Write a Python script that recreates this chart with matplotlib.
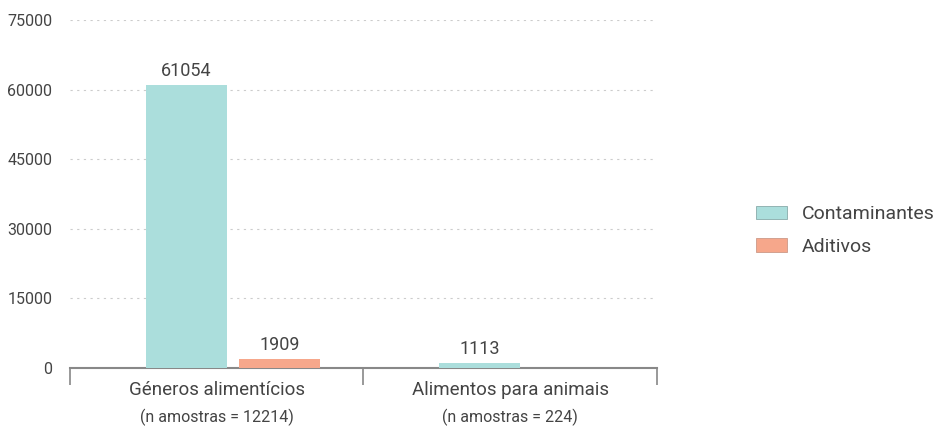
import matplotlib.pyplot as plt
import matplotlib.patches as mpatches
import numpy as np

categories = ["Géneros alimentícios", "Alimentos para animais"]
subtitles = ["(n amostras = 12214)", "(n amostras = 224)"]
series_names = ["Contaminantes", "Aditivos"]
contaminantes = [61054, 1113]
aditivos = [1909, 0]
yticks = [0, 15000, 30000, 45000, 60000, 75000]

colors = ["#abdedc", "#f6a78b"]

plt.rcParams['font.family'] = ['Roboto', 'DejaVu Sans']

fig = plt.figure(figsize=(9.38, 4.32), dpi=100)
ax = fig.add_axes([0.075, 0.148, 0.625, 0.806])

centers = np.arange(len(categories)) + 0.5
width = 0.276
offsets = [-0.105, 0.215]
txt_col = '#444444'
wt = 'normal'

for vals, off, col in zip([contaminantes, aditivos], offsets, colors):
    for c, v in zip(centers, vals):
        if v <= 0:
            continue
        ax.bar(c + off, v, width=width, color=col, zorder=3)
        ax.text(c + off, v + 1100, str(v), ha='center', va='bottom',
                fontsize=13, color=txt_col, fontweight=wt)

ax.set_xlim(0, 2)
ax.set_ylim(0, 75000)
ax.set_yticks(yticks)
ax.set_yticklabels([str(t) for t in yticks], fontsize=11.5, color=txt_col, fontweight=wt)
ax.tick_params(axis='y', length=0, pad=13)
ax.grid(axis='y', linestyle=(0, (2, 4)), color='#cccccc', linewidth=0.8, zorder=0)

ax.set_xticks([0, 1, 2])
ax.set_xticklabels([])
ax.tick_params(axis='x', length=12, width=1.2, color='#888888', direction='out')

for s in ['top', 'right', 'left']:
    ax.spines[s].set_visible(False)
ax.spines['bottom'].set_color('#888888')
ax.spines['bottom'].set_linewidth(1.5)

for c, cat, sub in zip(centers, categories, subtitles):
    ax.text(c, -0.038, cat, transform=ax.get_xaxis_transform(), ha='center', va='top',
            fontsize=13.5, color=txt_col, fontweight=wt)
    ax.text(c, -0.118, sub, transform=ax.get_xaxis_transform(), ha='center', va='top',
            fontsize=11.5, color=txt_col, fontweight=wt)

handles = [mpatches.Patch(facecolor=col, edgecolor='#8aa', label=n, linewidth=0.6)
           for col, n in zip(colors, series_names)]
handles[1].set_edgecolor('#c98')
leg = fig.legend(handles=handles, loc='upper left', bbox_to_anchor=(0.787, 0.565),
                 frameon=False, fontsize=14, handlelength=1.6, handleheight=0.7,
                 labelspacing=0.75, handletextpad=0.75)
for t in leg.get_texts():
    t.set_color(txt_col)
    t.set_fontweight(wt)

fig.savefig("out.png", dpi=100)
